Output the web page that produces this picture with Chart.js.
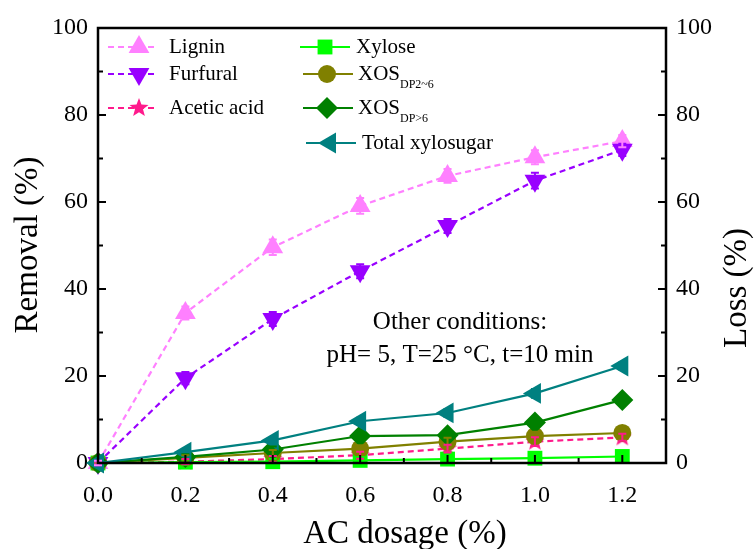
<!DOCTYPE html>
<html>
<head>
<meta charset="utf-8">
<script src="https://cdn.jsdelivr.net/npm/chart.js@4.4.0/dist/chart.umd.min.js"></script>
<style>
  body { margin: 0; background: #fff; }
  canvas { display: block; }
</style>
</head>
<body>
<canvas id="chart" width="755" height="549"></canvas>
<script>
// AC dosage (%) on the x axis
const doses = [0, 0.2, 0.4, 0.6, 0.8, 1.0, 1.2];

// removal (%) - left axis
const lignin = [0, 34.5, 49.6, 59.1, 66.0, 70.3, 74.0];
const furfural = [0, 19.5, 33.1, 44.1, 54.5, 64.9, 72.0];
const aceticAcid = [0, 0.3, 0.9, 1.8, 3.3, 4.9, 5.9];

// loss (%) - right axis
const xylose = [0, 0.2, 0.3, 0.6, 0.9, 1.1, 1.5];
const xosDP2to6 = [0, 1.2, 2.3, 3.3, 4.9, 6.2, 6.9];
const xosDPover6 = [0, 1.4, 3.1, 6.2, 6.4, 9.3, 14.5];
const totalXylosugar = [0, 2.5, 5.2, 9.6, 11.5, 16.0, 22.3];

// error bars (+/-)
const ligninErr = [0.5, 1.5, 1.8, 1.8, 1.6, 1.6, 1.4];
const furfuralErr = [0.5, 1.4, 1.6, 1.6, 1.6, 1.8, 1.4];
const smallErr = [0.3, 0.6, 0.7, 0.8, 0.9, 1.0, 0.8];

const xTicks = [0, 0.2, 0.4, 0.6, 0.8, 1.0, 1.2];
const yTicks = [0, 20, 40, 60, 80, 100];

const FONT = "'Liberation Serif', 'Times New Roman', serif";

// filled five-point star marker
function makeStar(color, r) {
  const c = document.createElement('canvas');
  c.width = c.height = r * 2 + 2;
  const g = c.getContext('2d');
  g.fillStyle = color;
  g.beginPath();
  for (let i = 0; i < 10; i++) {
    const rad = i % 2 === 0 ? r : r * 0.42;
    const a = -Math.PI / 2 + i * Math.PI / 5;
    const px = c.width / 2 + rad * Math.cos(a);
    const py = c.height / 2 + rad * Math.sin(a);
    if (i === 0) g.moveTo(px, py); else g.lineTo(px, py);
  }
  g.closePath();
  g.fill();
  return c;
}
const starImg = makeStar('#ff1a8c', 10);

function pts(arr) { return doses.map((d, i) => ({ x: d, y: arr[i] })); }

function series(label, arr, err, color, style, extra) {
  return Object.assign({
    label: label,
    data: pts(arr),
    err: err,
    borderColor: color,
    backgroundColor: color,
    pointBackgroundColor: color,
    pointBorderColor: color,
    borderWidth: 2.2,
    pointStyle: style,
    pointRadius: 12,
    pointBorderWidth: 0,
    tension: 0,
    clip: false
  }, extra || {});
}

const datasets = [
  series('Total xylosugar', totalXylosugar, smallErr, '#008080', 'triangle', { rotation: -90, yAxisID: 'y1' }),
  series('XOS>6', xosDPover6, smallErr, '#008000', 'rectRot', { pointRadius: 11, yAxisID: 'y1' }),
  series('XOS2-6', xosDP2to6, smallErr, '#808000', 'circle', { pointRadius: 9, yAxisID: 'y1' }),
  series('Xylose', xylose, smallErr, '#00ff00', 'rect', { pointRadius: 10.5, yAxisID: 'y1' }),
  series('Acetic acid', aceticAcid, smallErr, '#ff1a8c', starImg, { borderDash: [6, 4] }),
  series('Furfural', furfural, furfuralErr, '#9900ff', 'triangle', { rotation: 180, borderDash: [6, 4] }),
  series('Lignin', lignin, ligninErr, '#ff80ff', 'triangle', { borderDash: [6, 4] })
];

const frame = {
  id: 'frame',
  afterDatasetsDraw(chart) {
    const ctx = chart.ctx;
    // error bars
    chart.data.datasets.forEach((ds, di) => {
      const meta = chart.getDatasetMeta(di);
      const sc = chart.scales[ds.yAxisID || 'y'];
      ctx.save();
      ctx.strokeStyle = ds.borderColor;
      ctx.lineWidth = 2;
      ds.data.forEach((p, i) => {
        const e = ds.err[i];
        const x = meta.data[i].x;
        const y1 = sc.getPixelForValue(p.y + e), y2 = sc.getPixelForValue(p.y - e);
        ctx.beginPath();
        ctx.moveTo(x, y1); ctx.lineTo(x, y2);
        ctx.moveTo(x - 4, y1); ctx.lineTo(x + 4, y1);
        ctx.moveTo(x - 4, y2); ctx.lineTo(x + 4, y2);
        ctx.stroke();
      });
      ctx.restore();
    });
  },
  afterDraw(chart) {
    const ctx = chart.ctx;
    const a = chart.chartArea;
    const xs = chart.scales.x, ys = chart.scales.y;
    ctx.save();
    ctx.strokeStyle = '#000';
    ctx.lineWidth = 2.5;
    ctx.strokeRect(a.left, a.top, a.right - a.left, a.bottom - a.top);
    ctx.lineWidth = 2;
    ctx.beginPath();
    // inward ticks, left and right
    for (let v = 0; v <= 100; v += 10) {
      const y = ys.getPixelForValue(v);
      const len = v % 20 === 0 ? 8 : 5;
      ctx.moveTo(a.left, y); ctx.lineTo(a.left + len, y);
      ctx.moveTo(a.right, y); ctx.lineTo(a.right - len, y);
    }
    // inward ticks, bottom
    for (let k = 0; k <= 12; k++) {
      const x = xs.getPixelForValue(k / 10);
      const len = k % 2 === 0 ? 8 : 5;
      ctx.moveTo(x, a.bottom); ctx.lineTo(x, a.bottom - len);
    }
    ctx.stroke();

    ctx.fillStyle = '#000';
    ctx.textAlign = 'center';
    ctx.textBaseline = 'middle';
    // axis titles
    ctx.font = '33px ' + FONT;
    ctx.fillText('AC dosage (%)', 405, 534);
    ctx.save();
    ctx.translate(28, 245);
    ctx.rotate(-Math.PI / 2);
    ctx.fillText('Removal (%)', 0, 0);
    ctx.restore();
    ctx.save();
    ctx.translate(737, 288);
    ctx.rotate(-Math.PI / 2);
    ctx.fillText('Loss (%)', 0, 0);
    ctx.restore();

    // conditions note
    ctx.font = '25px ' + FONT;
    ctx.fillText('Other conditions:', 460, 322);
    ctx.fillText('pH= 5, T=25 \u00B0C, t=10 min', 460, 355);

    // legend
    const byLabel = {};
    chart.data.datasets.forEach(ds => { byLabel[ds.label] = ds; });
    const items = [
      { key: 'Lignin', x0: 108, x1: 156, mx: 139, tx: 169, y: 47, text: 'Lignin' },
      { key: 'Furfural', x0: 108, x1: 156, mx: 139, tx: 169, y: 74, text: 'Furfural' },
      { key: 'Acetic acid', x0: 108, x1: 156, mx: 139, tx: 169, y: 108, text: 'Acetic acid' },
      { key: 'Xylose', x0: 300, x1: 350, mx: 325, tx: 356, y: 47, text: 'Xylose' },
      { key: 'XOS2-6', x0: 303, x1: 353, mx: 327, tx: 358, y: 74, text: 'XOS', sub: 'DP2~6' },
      { key: 'XOS>6', x0: 303, x1: 353, mx: 327, tx: 358, y: 108, text: 'XOS', sub: 'DP>6' },
      { key: 'Total xylosugar', x0: 306, x1: 356, mx: 330, tx: 362, y: 143, text: 'Total xylosugar' }
    ];
    items.forEach(it => {
      const ds = byLabel[it.key];
      ctx.save();
      ctx.strokeStyle = ds.borderColor;
      ctx.fillStyle = ds.borderColor;
      ctx.lineWidth = 2.2;
      ctx.setLineDash(ds.borderDash || []);
      ctx.beginPath();
      ctx.moveTo(it.x0, it.y); ctx.lineTo(it.x1, it.y);
      ctx.stroke();
      ctx.setLineDash([]);
      Chart.helpers.drawPoint(ctx, {
        pointStyle: ds.pointStyle, rotation: ds.rotation || 0,
        radius: ds.pointRadius, borderWidth: 0
      }, it.mx, it.y);
      ctx.restore();
      ctx.fillStyle = '#000';
      ctx.textAlign = 'left';
      ctx.font = '21px ' + FONT;
      ctx.fillText(it.text, it.tx, it.y);
      if (it.sub) {
        const w = ctx.measureText(it.text).width;
        ctx.font = '12px ' + FONT;
        ctx.fillText(it.sub, it.tx + w, it.y + 11);
      }
    });
    ctx.restore();
  }
};

new Chart(document.getElementById('chart'), {
  type: 'line',
  data: { datasets: datasets },
  options: {
    responsive: false,
    animation: false,
    layout: { padding: { top: 28, left: 0, right: 0, bottom: 0 } },
    plugins: { legend: { display: false }, tooltip: { enabled: false } },
    scales: {
      x: {
        type: 'linear', min: 0, max: 1.3,
        afterFit: s => { s.height = 86; },
        afterBuildTicks: s => { s.ticks = xTicks.map(v => ({ value: v })); },
        grid: { display: false, drawTicks: false },
        border: { display: false },
        ticks: {
          padding: 18, color: '#000',
          font: { family: FONT, size: 24 },
          callback: v => v.toFixed(1)
        }
      },
      y: {
        position: 'left', min: 0, max: 100,
        afterFit: s => { s.width = 98; },
        afterBuildTicks: s => { s.ticks = yTicks.map(v => ({ value: v })); },
        grid: { display: false, drawTicks: false },
        border: { display: false },
        ticks: { padding: 10, color: '#000', font: { family: FONT, size: 24 } }
      },
      y1: {
        position: 'right', min: 0, max: 100,
        afterFit: s => { s.width = 89; },
        afterBuildTicks: s => { s.ticks = yTicks.map(v => ({ value: v })); },
        grid: { display: false, drawTicks: false },
        border: { display: false },
        ticks: { padding: 10, color: '#000', font: { family: FONT, size: 24 } }
      }
    }
  },
  plugins: [frame]
});
</script>
</body>
</html>
